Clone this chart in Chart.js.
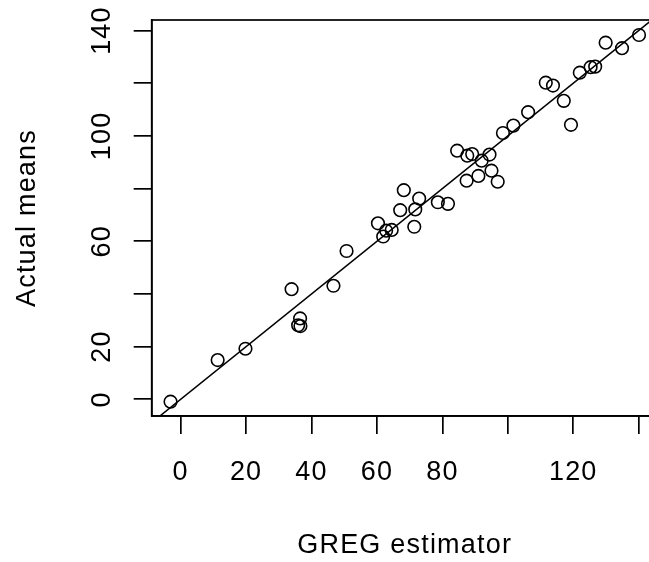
<!DOCTYPE html>
<html>
<head>
<meta charset="utf-8">
<script src="https://cdn.jsdelivr.net/npm/chart.js@4"></script>
<style>
  html, body { margin: 0; padding: 0; background: #fff; overflow: hidden; }
  #greg { display: block; }
</style>
</head>
<body>
<canvas id="greg" width="649" height="562"></canvas>
<script>
// GREG estimate vs actual mean, one circle per domain
var estimator = [-3.1, 11.3, 19.8, 33.9, 36.5, 35.9, 36.6, 46.7, 50.7, 60.3, 62.8, 61.9, 64.5, 68.2,
                 67.1, 71.4, 71.7, 72.9, 78.6, 81.7, 84.5, 87.6, 89.1, 87.4, 91.0, 92.0, 94.4, 95.0,
                 96.9, 98.5, 101.7, 106.2, 111.6, 113.8, 117.1, 119.3, 122.0, 125.3, 126.7, 129.9, 134.9, 140.1];
var actual = [-0.9, 14.9, 19.2, 41.8, 30.7, 28.1, 27.8, 43.1, 56.3, 66.8, 64.0, 61.8, 64.3, 79.4,
              71.8, 65.5, 72.1, 76.2, 74.8, 74.2, 94.4, 92.5, 93.1, 83.0, 84.8, 90.6, 92.9, 86.8,
              82.6, 101.1, 103.9, 109.0, 120.2, 119.1, 113.3, 104.2, 124.0, 126.1, 126.3, 135.4, 133.3, 138.3];

// tick positions and the labels that get printed (blank = tick only)
var xTicks = [0, 20, 40, 60, 80, 100, 120, 140];
var xTickLabels = ['0', '20', '40', '60', '80', '', '120', ''];
var yTicks = [0, 20, 40, 60, 80, 100, 120, 140];
var yTickLabels = ['0', '20', '', '60', '', '100', '', '140'];

var xTitle = 'GREG estimator';
var yTitle = 'Actual means';

// y = x reference line (abline(0, 1))
var refIntercept = 0;
var refSlope = 1;

// plotting window; the box runs on to xBoxMax, a bit past the canvas edge
var xMin = -8.86, xMax = 143.15, xBoxMax = 145.8;
var yMin = -6.34, yMax = 144.0;

var FONT = '27px "Liberation Sans", Arial, sans-serif';

var points = estimator.map(function (v, i) {
    return { x: v, y: actual[i] };
});

var refLine = [xMin - 5, xBoxMax + 5].map(function (v) {
    return { x: v, y: refIntercept + refSlope * v };
});

// box round the plot plus the R style tick labels and titles
var rStyleAxes = {
    id: 'rStyleAxes',
    afterDraw: function (chart) {
        var ctx = chart.ctx;
        var a = chart.chartArea;
        var xs = chart.scales.x;
        var ys = chart.scales.y;
        var boxRight = xs.getPixelForValue(xBoxMax);

        ctx.save();
        ctx.strokeStyle = '#000';
        ctx.lineWidth = 1.7;
        ctx.strokeRect(a.left, a.top, boxRight - a.left, a.bottom - a.top);

        ctx.fillStyle = '#000';
        ctx.font = FONT;
        ctx.letterSpacing = '1.2px';

        // x labels
        ctx.textAlign = 'center';
        ctx.textBaseline = 'alphabetic';
        xTicks.forEach(function (v, i) {
            if (xTickLabels[i]) ctx.fillText(xTickLabels[i], xs.getPixelForValue(v), 479.5);
        });
        ctx.fillText(xTitle, (a.left + boxRight) / 2, 552.5);

        // y labels, turned to read upwards
        yTicks.forEach(function (v, i) {
            if (!yTickLabels[i]) return;
            ctx.save();
            ctx.translate(110, ys.getPixelForValue(v));
            ctx.rotate(-Math.PI / 2);
            ctx.fillText(yTickLabels[i], 0, 0);
            ctx.restore();
        });
        ctx.save();
        ctx.translate(35, (a.top + a.bottom) / 2);
        ctx.rotate(-Math.PI / 2);
        ctx.fillText(yTitle, 0, 0);
        ctx.restore();

        ctx.restore();
    }
};

const ctx = document.getElementById('greg');
const gregChart = new Chart(ctx, {
    type: 'scatter',
    data: {
        datasets: [{
            label: 'domains',
            data: points,
            pointStyle: 'circle',
            pointRadius: 6.3,
            pointHoverRadius: 6.3,
            backgroundColor: 'rgba(0,0,0,0)',
            borderColor: '#000',
            borderWidth: 1.6
        }, {
            type: 'line',
            label: 'y = x',
            data: refLine,
            borderColor: '#000',
            borderWidth: 1.5,
            pointRadius: 0,
            fill: false
        }]
    },
    options: {
        responsive: false,
        animation: false,
        events: [],
        layout: {
            // no extra room for point overflow, the plot runs to the canvas edge
            autoPadding: false,
            padding: { left: 0, right: 0, top: 20, bottom: 0 }
        },
        plugins: {
            legend: { display: false },
            tooltip: { enabled: false }
        },
        scales: {
            x: {
                type: 'linear',
                min: xMin,
                max: xMax,
                afterBuildTicks: function (scale) {
                    scale.ticks = xTicks.map(function (v) { return { value: v }; });
                },
                afterFit: function (scale) {
                    scale.height = 146;
                    scale.paddingLeft = 0;
                    scale.paddingRight = 0;
                },
                grid: {
                    drawOnChartArea: false,
                    drawTicks: true,
                    tickLength: 18,
                    color: '#000',
                    lineWidth: 1.7
                },
                border: { display: true, color: '#000', width: 1.7 },
                ticks: { display: false }
            },
            y: {
                type: 'linear',
                min: yMin,
                max: yMax,
                afterBuildTicks: function (scale) {
                    scale.ticks = yTicks.map(function (v) { return { value: v }; });
                },
                afterFit: function (scale) {
                    scale.width = 151.7;
                    scale.paddingTop = 0;
                    scale.paddingBottom = 0;
                },
                grid: {
                    drawOnChartArea: false,
                    drawTicks: true,
                    tickLength: 18,
                    color: '#000',
                    lineWidth: 1.7
                },
                border: { display: true, color: '#000', width: 1.7 },
                ticks: { display: false }
            }
        }
    },
    plugins: [rStyleAxes]
});
</script>
</body>
</html>
